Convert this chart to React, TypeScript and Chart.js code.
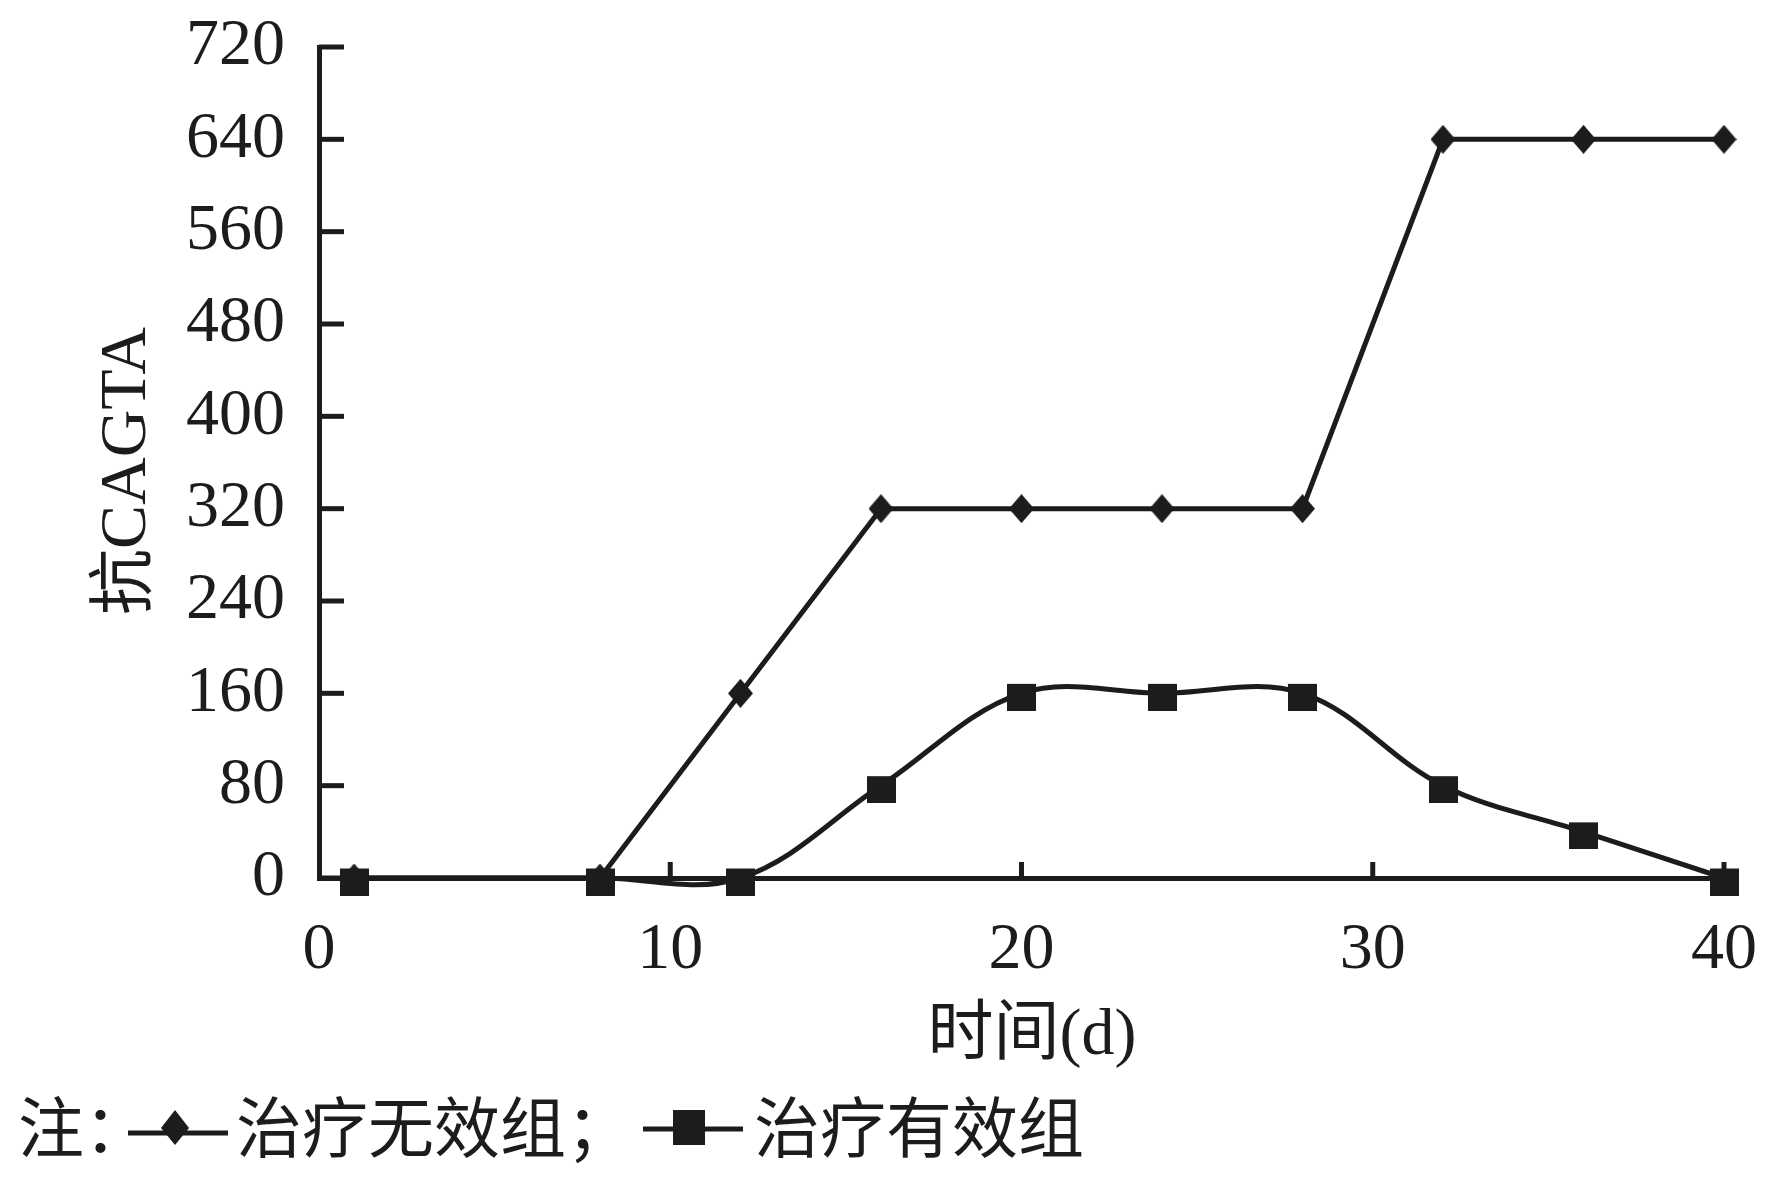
import React, { useEffect, useRef } from 'react';
import { Chart, registerables } from 'chart.js';

Chart.register(...registerables);

// ---- data ----
const days = [1, 8, 12, 16, 20, 24, 28, 32, 36, 40];
const ineffectiveValues = [0, 0, 160, 320, 320, 320, 320, 640, 640, 640];
const effectiveValues = [0, 0, 0, 80, 160, 160, 160, 80, 40, 0];
const xTickValues = [0, 10, 20, 30, 40];
const yTickValues = [0, 80, 160, 240, 320, 400, 480, 560, 640, 720];
const seriesNames = ['治疗无效组', '治疗有效组'];
const xTitle = '时间(d)';
const yTitle = '抗CAGTA';
const notePrefix = '注：';

const INK = '#1c1c1c';
const SERIF = '"Liberation Serif", "Times New Roman", "Noto Sans CJK SC", serif';
const CJK = '"Noto Sans CJK SC", "Liberation Serif", sans-serif';

function makeDiamond(w: number, h: number) {
  const c = document.createElement('canvas');
  c.width = w;
  c.height = h;
  const g = c.getContext('2d')!;
  g.fillStyle = INK;
  g.beginPath();
  g.moveTo(w / 2, 0);
  g.lineTo(w, h / 2);
  g.lineTo(w / 2, h);
  g.lineTo(0, h / 2);
  g.closePath();
  g.fill();
  return c;
}

function makeSquare(w: number, h: number, offset: number) {
  const c = document.createElement('canvas');
  c.width = w;
  c.height = h + 2 * offset;
  const g = c.getContext('2d')!;
  g.fillStyle = INK;
  g.fillRect(0, 2 * offset, w, h);
  return c;
}

const zeroPadding = (s: any) => {
  s.paddingTop = 0;
  s.paddingBottom = 0;
  s.paddingLeft = 0;
  s.paddingRight = 0;
};

const decorPlugin = {
  id: 'decor',
  beforeDatasetsDraw(chart: any) {
    const ctx = chart.ctx as CanvasRenderingContext2D;
    const xs = chart.scales.x;
    const ys = chart.scales.y;
    const area = chart.chartArea;
    ctx.save();
    ctx.fillStyle = INK;
    // inward ticks on y axis
    yTickValues.forEach((v) => {
      const y = ys.getPixelForValue(v);
      ctx.fillRect(area.left, y - 2.5, 25, 5);
    });
    // inward ticks on x axis
    xTickValues.forEach((v) => {
      if (v === 0) return;
      const x = xs.getPixelForValue(v);
      ctx.fillRect(x - 2.5, area.bottom - 16, 5, 16);
    });
    ctx.restore();
  },
  afterDraw(chart: any) {
    const ctx = chart.ctx as CanvasRenderingContext2D;
    ctx.save();
    ctx.fillStyle = INK;
    ctx.strokeStyle = INK;
    ctx.textBaseline = 'middle';

    // y title
    ctx.save();
    ctx.translate(128, 471);
    ctx.rotate(-Math.PI / 2);
    ctx.textAlign = 'center';
    ctx.font = `66px ${SERIF}`;
    ctx.fillText(yTitle, 0, 0);
    ctx.restore();

    // x title
    ctx.textAlign = 'center';
    ctx.font = `66px ${SERIF}`;
    ctx.fillText(xTitle, 1032, 1037);

    // legend
    const ly = 1127;
    ctx.textAlign = 'left';
    ctx.font = `66px ${CJK}`;
    ctx.fillText(notePrefix, 18, ly);

    ctx.lineWidth = 5;
    ctx.beginPath();
    ctx.moveTo(128, 1133);
    ctx.lineTo(228, 1133);
    ctx.stroke();
    ctx.beginPath();
    ctx.moveTo(175, 1110);
    ctx.lineTo(189, 1128);
    ctx.lineTo(175, 1145);
    ctx.lineTo(161, 1128);
    ctx.closePath();
    ctx.fill();
    ctx.fillText(seriesNames[0] + '；', 236, ly);

    ctx.beginPath();
    ctx.moveTo(643, 1129);
    ctx.lineTo(743, 1129);
    ctx.stroke();
    ctx.fillRect(673, 1110, 32, 35);
    ctx.fillText(seriesNames[1], 754, ly);

    ctx.restore();
  },
};

export default function App() {
  const ref = useRef<HTMLCanvasElement | null>(null);

  useEffect(() => {
    document.body.style.margin = '0';
    const canvas = ref.current;
    if (!canvas) return;

    const diamond = makeDiamond(25, 29);
    const square = makeSquare(29, 27, 4);

    const chart = new Chart(canvas, {
      type: 'line',
      data: {
        datasets: [
          {
            label: seriesNames[0],
            data: days.map((d, i) => ({ x: d, y: ineffectiveValues[i] })),
            borderColor: INK,
            backgroundColor: INK,
            borderWidth: 5,
            tension: 0,
            pointStyle: diamond as any,
            pointRadius: 14,
            clip: false as any,
            order: 1,
          },
          {
            label: seriesNames[1],
            data: days.map((d, i) => ({ x: d, y: effectiveValues[i] })),
            borderColor: INK,
            backgroundColor: INK,
            borderWidth: 5,
            tension: 0.36,
            pointStyle: square as any,
            pointRadius: 14,
            clip: false as any,
            order: 0,
          },
        ],
      },
      options: {
        responsive: false,
        animation: false,
        devicePixelRatio: 1,
        layout: { padding: { top: 47, right: 47, left: 0, bottom: 0 } },
        elements: { line: { capBezierPoints: false } },
        plugins: {
          legend: { display: false },
          tooltip: { enabled: false },
          title: { display: false },
        },
        scales: {
          x: {
            type: 'linear',
            min: 0,
            max: 40,
            afterBuildTicks: (s: any) => {
              s.ticks = xTickValues.map((v) => ({ value: v }));
            },
            afterFit: (s: any) => {
              s.height = 305;
              zeroPadding(s);
            },
            grid: { display: false, drawTicks: false },
            border: { display: true, width: 5, color: INK },
            ticks: {
              color: INK,
              font: { family: SERIF, size: 66, lineHeight: 1 },
              padding: 40,
              maxRotation: 0,
              autoSkip: false,
              callback: (v: any) => String(v),
            },
          },
          y: {
            type: 'linear',
            min: 0,
            max: 720,
            afterBuildTicks: (s: any) => {
              s.ticks = yTickValues.map((v) => ({ value: v }));
            },
            afterFit: (s: any) => {
              s.width = 319;
              zeroPadding(s);
            },
            grid: { display: false, drawTicks: false },
            border: { display: true, width: 5, color: INK },
            ticks: {
              color: INK,
              font: { family: SERIF, size: 66, lineHeight: 1 },
              padding: 34,
              autoSkip: false,
              callback: (v: any) => String(v),
            },
          },
        },
      },
      plugins: [decorPlugin],
    });

    return () => chart.destroy();
  }, []);

  return (
    <canvas
      ref={ref}
      width={1771}
      height={1183}
      style={{ display: 'block', width: 1771, height: 1183 }}
    />
  );
}
